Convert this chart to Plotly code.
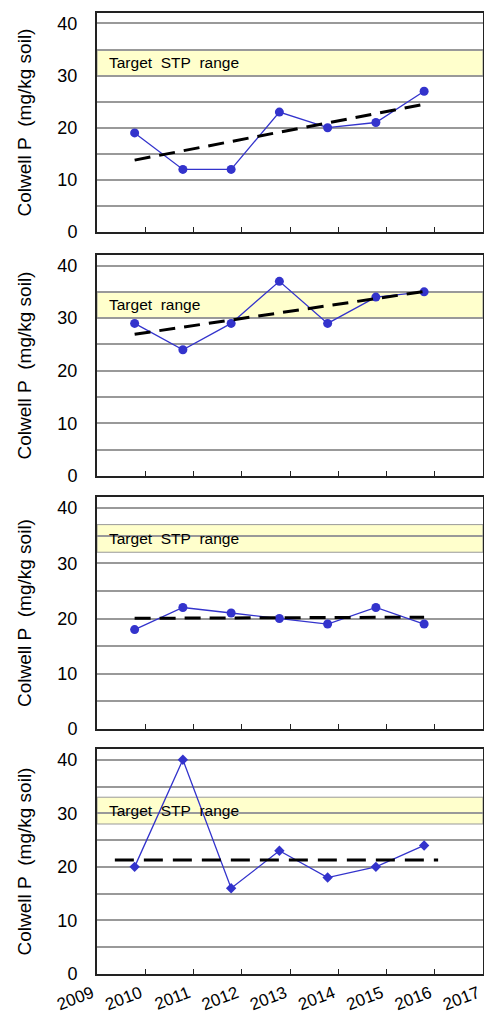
import numpy as np
import plotly.graph_objects as go

# ---- data ----
years_x = [2009.78, 2010.78, 2011.78, 2012.78, 2013.78, 2014.78, 2015.78]
p1_vals = [19, 12, 12, 23, 20, 21, 27]
p2_vals = [29, 24, 29, 37, 29, 34, 35]
p3_vals = [18, 22, 21, 20, 19, 22, 19]
p4_vals = [20, 40, 16, 23, 18, 20, 24]
p4_ref_x = [2009.37, 2016.07]
p4_ref_y = [21.3, 21.3]
band_low = [30, 30, 32, 28]
band_high = [35, 35, 37, 33]
band_labels = ["Target\u00a0 STP\u00a0 range", "Target\u00a0 range",
               "Target\u00a0 STP\u00a0 range", "Target\u00a0 STP\u00a0 range"]
x_ticks = [2009, 2010, 2011, 2012, 2013, 2014, 2015, 2016, 2017]
y_ticks = [0, 5, 10, 15, 20, 25, 30, 35, 40]
y_ticktext = ["0", "", "10", "", "20", "", "30", "", "40"]
y_title = "Colwell P\u00a0 (mg/kg soil)"

W, H = 484, 1017
ML, MR, MT, MB = 97, 1, 13, 43
plot_h = H - MT - MB
panels_px = [(13, 232), (255, 476), (497, 729), (749, 974)]
domains = [((974 - b) / plot_h, (974 - t) / plot_h) for t, b in panels_px]

BLUE = "#3333CC"
FONT = "Liberation Sans, Arial, sans-serif"

fig = go.Figure()
series = [p1_vals, p2_vals, p3_vals, p4_vals]
symbols = ["circle", "circle", "circle", "diamond"]
for i, vals in enumerate(series):
    xa = "x" if i == 0 else f"x{i+1}"
    ya = "y" if i == 0 else f"y{i+1}"
    fig.add_trace(go.Scatter(x=years_x, y=vals, mode="lines+markers",
                             line=dict(color=BLUE, width=1.3),
                             marker=dict(color=BLUE, size=9 if i < 3 else 8, symbol=symbols[i]),
                             xaxis=xa, yaxis=ya, showlegend=False))
    if i < 3:
        xs = np.arange(len(vals))
        slope, icpt = np.polyfit(xs, vals, 1)
        tx = [years_x[0], years_x[-1]]
        ty = [icpt, icpt + slope * (len(vals) - 1)]
        dash = "16px,9px"
    else:
        tx, ty = p4_ref_x, p4_ref_y
        dash = "19px,10px"
    fig.add_trace(go.Scatter(x=tx, y=ty, mode="lines",
                             line=dict(color="black", width=3, dash=dash),
                             xaxis=xa, yaxis=ya, showlegend=False))
    fig.add_shape(type="rect", xref=xa, yref=ya, x0=2009, x1=2017,
                  y0=band_low[i], y1=band_high[i], fillcolor="#FFFFCC",
                  line=dict(color="#999999", width=1), layer="below")
    fig.add_annotation(xref=xa, yref=ya, x=2009.2, y=(band_low[i] + band_high[i]) / 2,
                       text=band_labels[i], showarrow=False, xanchor="left",
                       yanchor="middle", font=dict(size=15.5, color="black", family=FONT))
    d0, d1 = domains[i]
    fig.add_annotation(xref="paper", yref="paper", x=(24 - ML) / (W - ML - MR),
                       y=(d0 + d1) / 2, text=y_title, textangle=-90, showarrow=False,
                       xanchor="center", yanchor="middle",
                       font=dict(size=19, color="black", family=FONT))
    xkey = "xaxis" if i == 0 else f"xaxis{i+1}"
    ykey = "yaxis" if i == 0 else f"yaxis{i+1}"
    fig.layout[xkey] = dict(range=[2009, 2017], domain=[0, 1], anchor=ya,
                            tickvals=x_ticks, ticktext=[str(v) for v in x_ticks],
                            showticklabels=(i == 3), tickangle=-21,
                            ticks="inside", ticklen=5, tickcolor="#222",
                            showgrid=False, showline=True, linecolor="#222",
                            linewidth=2, mirror=True, zeroline=False,
                            automargin=False,
                            ticklabeloverflow="allow", ticklabelstandoff=1,
                            ticklabelshift=-5,
                            tickfont=dict(size=17, color="black", family=FONT))
    fig.layout[ykey] = dict(range=[0, 42], domain=[d0, d1], anchor=xa,
                            tickvals=y_ticks, ticktext=y_ticktext,
                            showgrid=True, gridcolor="#999999", gridwidth=1.5,
                            ticks="", showline=True, linecolor="#222",
                            linewidth=2, mirror=True, zeroline=False,
                            automargin=False,
                            ticklabelstandoff=14,
                            tickfont=dict(size=18, color="black", family=FONT))

fig.update_layout(width=W, height=H, margin=dict(l=ML, r=MR, t=MT, b=MB, autoexpand=False),
                  plot_bgcolor="white", paper_bgcolor="white",
                  font=dict(family=FONT))
fig.write_html("out.html")
